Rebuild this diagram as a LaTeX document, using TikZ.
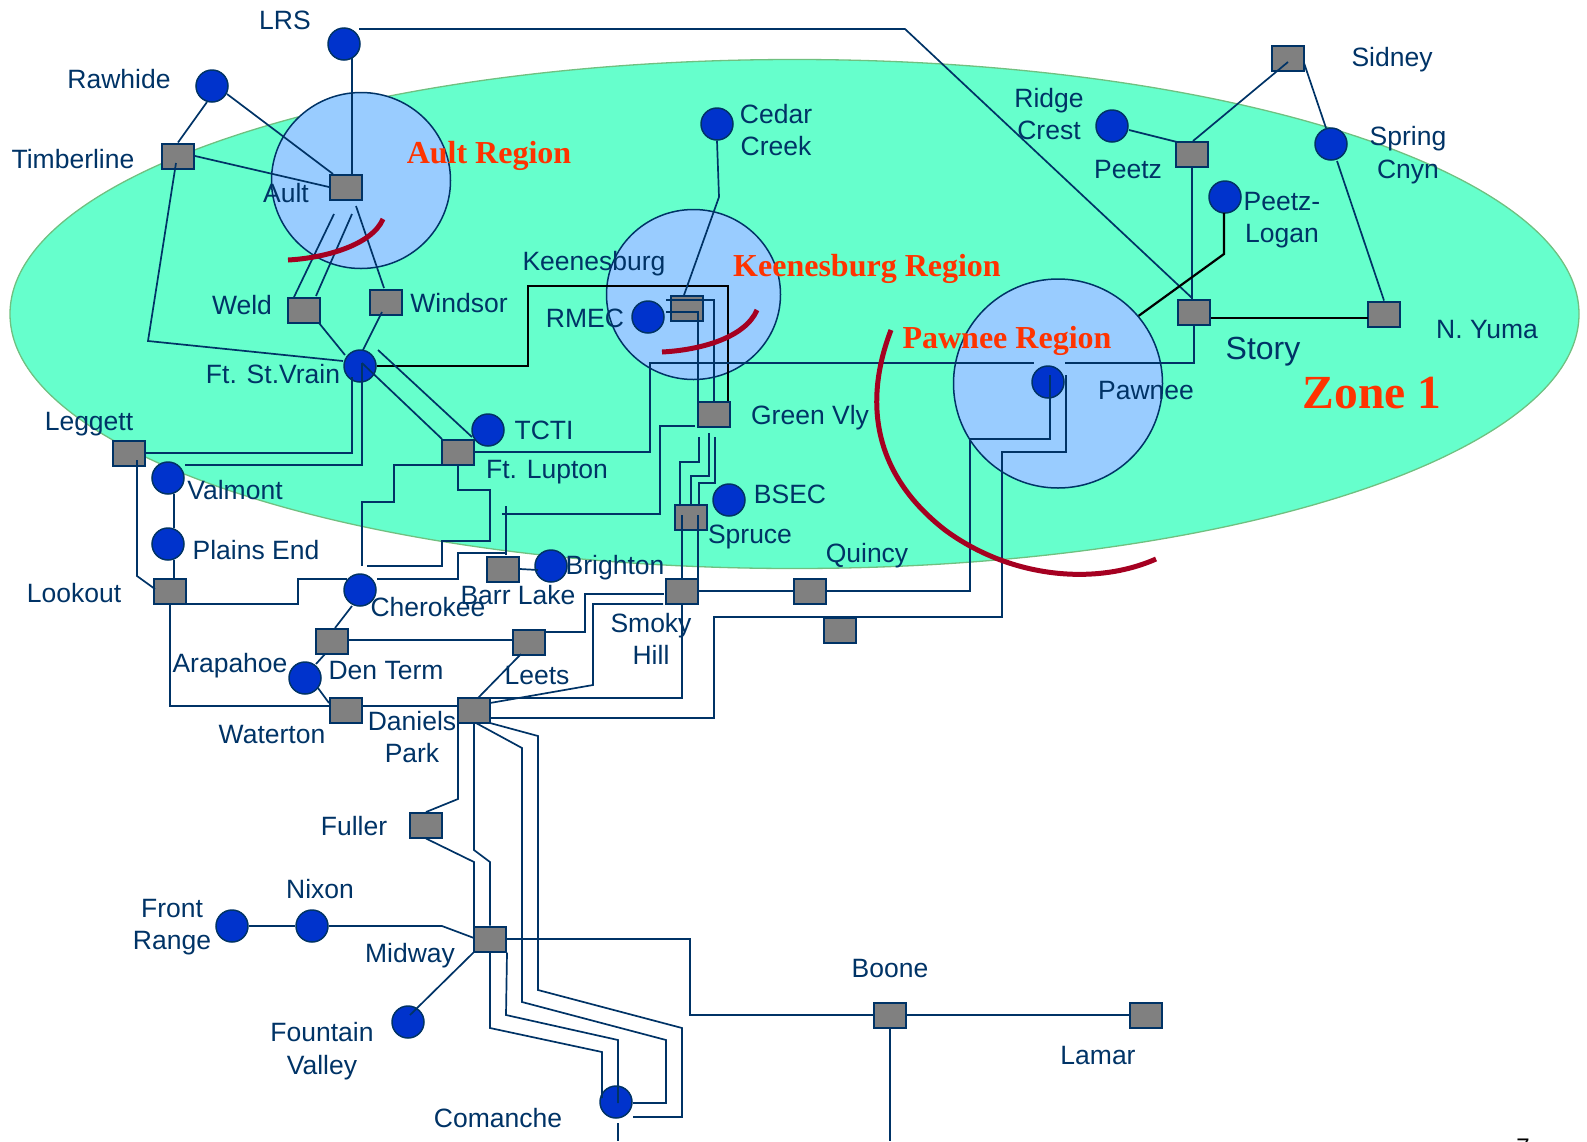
\documentclass[tikz,border=0pt]{standalone}
\usepackage{fontspec}
\setmainfont{Liberation Sans}
\newfontfamily\regfont{Liberation Serif}
\usetikzlibrary{calc}
\definecolor{navy}{HTML}{003366}
\definecolor{zonegreen}{HTML}{66FFCC}
\definecolor{zoneedge}{HTML}{70C080}
\definecolor{regblue}{HTML}{99CCFF}
\definecolor{subblue}{HTML}{0033CC}
\definecolor{cutred}{HTML}{A50021}
\definecolor{regred}{HTML}{FF3300}
\tikzset{
  stn/.style={draw=navy,fill=gray,line width=2pt,minimum width=32pt,minimum height=25pt,inner sep=0pt},
  sub/.style={circle,draw=navy,fill=subblue,line width=1.5pt,minimum size=32pt,inner sep=0pt},
  regn/.style={draw=navy,fill=regblue,line width=1.5pt},
  lnk/.style={draw=navy,line width=1.7pt},
  blk/.style={draw=black,line width=2.2pt},
  cut/.style={draw=cutred,line width=5pt},
  lbl/.style={text=navy,align=center,inner sep=0pt,font=\fontsize{26.5}{32.4}\selectfont},
  reg/.style={text=regred,inner sep=0pt,font=\regfont\bfseries\fontsize{32}{36}\selectfont}
}
\begin{document}
\begin{tikzpicture}[x=1pt,y=-1pt]
\useasboundingbox (0,0) rectangle (1587,1141);
\clip (0,0) rectangle (1587,1141);

\draw[draw=zoneedge,fill=zonegreen,line width=1.3pt] (794.5,314) ellipse [x radius=784.5, y radius=254.5];
\draw[regn] (361,180.5) ellipse [x radius=89.5, y radius=88];
\draw[regn] (693.5,294.5) ellipse [x radius=87, y radius=85];
\node[regn,circle,inner sep=0pt,minimum size=209pt] (pawnreg) at (1058,383.5) {};

% squares
\node[stn] (timberline) at (178,156) {};
\node[stn] (aultsq) at (346,187) {};
\node[stn] (weld) at (304,310) {};
\node[stn] (windsor) at (386,302) {};
\node[stn] (ftlupton) at (458,452) {};
\node[stn] (leggett) at (129,453) {};
\node[stn] (lookout) at (170,591) {};
\node[stn] (barr) at (503,569) {};
\node[stn] (smoky) at (682,591) {};
\node[stn] (dtsq) at (332,641) {};
\node[stn] (leets) at (529,642) {};
\node[stn] (waterton) at (346,710) {};
\node[stn] (daniels) at (474,710) {};
\node[stn] (fuller) at (426,825) {};
\node[stn] (midway) at (490,939) {};
\node[stn] (boone) at (890,1015) {};
\node[stn] (lamar) at (1146,1015) {};
\node[stn] (keen) at (687,308) {};
\node[stn] (grnvly) at (714,414) {};
\node[stn] (spruce) at (691,517) {};
\node[stn] (quincy) at (810,591) {};
\node[stn] (spare) at (840,630) {};
\node[stn] (story) at (1194,312) {};
\node[stn] (nyuma) at (1384,314) {};
\node[stn] (peetz) at (1192,154) {};
\node[stn] (sidney) at (1288,58) {};

% circles
\node[sub] (rawhide) at (212,86) {};
\node[sub] (lrs) at (344,44) {};
\node[sub] (fsv) at (360,366) {};
\node[sub] (tcti) at (488,430) {};
\node[sub] (valmont) at (168,478) {};
\node[sub] (plains) at (168,544) {};
\node[sub] (cherokee) at (360,590) {};
\node[sub] (brighton) at (551,566) {};
\node[sub] (denterm) at (305,678) {};
\node[sub] (frontrange) at (232,926) {};
\node[sub] (nixon) at (312,926) {};
\node[sub] (fountain) at (408,1022) {};
\node[sub] (comanche) at (616,1102) {};
\node[sub] (cedar) at (717,124) {};
\node[sub] (rmec) at (648,317) {};
\node[sub] (bsec) at (729,500) {};
\node[sub] (pawnee) at (1048,382) {};
\node[sub] (ridge) at (1112,126) {};
\node[sub] (spring) at (1331,144) {};
\node[sub] (peetzlogan) at (1225,197) {};

\coordinate (comdn) at (618,1141);
\coordinate (boonedn) at (890,1141);

% Ault area
\draw[lnk] ($(lrs)+(8,14)$) -- ($(aultsq)+(6,-13)$);
\draw[lnk] ($(lrs)+(15,-15)$) -- (905,29) -- ($(story)+(-2,-14)$);
\draw[lnk] ($(rawhide)+(-5,16)$) -- (timberline.north);
\draw[lnk] ($(rawhide)+(15,8)$) -- ($(aultsq)+(-13,-13)$);
\draw[lnk] (timberline.east) -- (aultsq.west);
\draw[lnk] ($(timberline)+(-2,7)$) -- (148,341) -- ($(fsv)+(-17,-5)$);
\draw[lnk] ($(aultsq)+(-12,27)$) -- ($(weld)+(-10,-13)$);
\draw[lnk] ($(aultsq)+(6,27)$) -- ($(weld)+(12,-14)$);
\draw[lnk] ($(aultsq)+(10,19)$) -- ($(windsor)+(-2,-14)$);
\draw[lnk] ($(weld)+(15,13)$) -- ($(fsv)+(-15,-11)$);
\draw[lnk] ($(windsor)+(-4,10)$) -- ($(fsv)+(3,-16)$);

% Ft. St.Vrain
\draw[blk] (fsv.east) -- (528,366) -- (528,286) -- (728,286) -- ($(grnvly)+(14,-13)$);
\draw[lnk] ($(fsv)+(-8,11)$) -- (352,453) -- (leggett.east);
\draw[lnk] ($(fsv)+(2,-3)$) -- (362,465) -- ($(valmont)+(17,-13)$);
\draw[lnk] ($(fsv)+(2,-3)$) -- ($(ftlupton)+(-16,-13)$);
\draw[lnk] ($(fsv)+(18,-16)$) -- ($(ftlupton)+(14,-15)$);

% Ft. Lupton
\draw[lnk] (ftlupton.east) -- (650,452) -- (650,363) -- ($(pawnee)+(-14,-19)$);
\draw[lnk] ($(pawnee)+(17,-19)$) -- (1194,363) -- (story.south);
\draw[lnk] ($(ftlupton)+(-16,13)$) -- (394,465) -- (394,502) -- (362,502) -- ($(cherokee)+(2,-24)$);
\draw[lnk] (ftlupton.south) -- (458,490) -- (490,490) -- (490,541) -- (442,541) -- (442,566) -- ($(cherokee)+(7,-24)$);

% Lookout and Cherokee
\draw[lnk] ($(lookout)+(16,13)$) -- (298,604) -- (298,579) -- ($(cherokee)+(-13,-11)$);
\draw[lnk] ($(cherokee)+(17,-11)$) -- (458,579) -- (458,553) -- ($(barr)+(3,-16)$);
\draw[lnk] ($(barr)+(3,-14)$) -- ($(barr)+(3,-63)$);
\draw[lnk] ($(barr)+(-1,-55)$) -- (660,514) -- (660,426) -- ($(grnvly)+(-19,12)$);
\draw[lnk] (barr.east) -- ($(brighton)+(-13,4)$);
\draw[lnk] ($(valmont)+(6,16)$) -- ($(plains)+(6,-16)$);
\draw[lnk] ($(plains)+(6,16)$) -- ($(lookout)+(4,-13)$);
\draw[lnk] ($(leggett)+(8,7)$) -- (137,576) -- ($(lookout)+(-15,-2)$);
\draw[lnk] (lookout.south) -- (170,706) -- ($(waterton)+(-16,-4)$);
\draw[lnk] ($(waterton)+(17,-4)$) -- ($(daniels)+(-16,-4)$);
\draw[lnk] ($(cherokee)+(-8,16)$) -- ($(dtsq)+(3,-13)$);
\draw[lnk] ($(dtsq)+(-7,13)$) -- ($(denterm)+(11,-14)$);
\draw[lnk] ($(denterm)+(13,10)$) -- ($(waterton)+(-17,-7)$);
\draw[lnk] ($(dtsq)+(17,-1)$) -- ($(leets)+(-16,-2)$);

% Smoky Hill and Daniels Park
\draw[lnk] ($(leets)+(17,-10)$) -- (585,632) -- (585,594) -- ($(smoky)+(-18,3)$);
\draw[lnk] ($(smoky)+(-19,13)$) -- (593,604) -- (593,685) -- ($(daniels)+(16,-7)$);
\draw[lnk] (smoky.south) -- (682,698) -- ($(daniels)+(16,-12)$);
\draw[lnk] ($(leets)+(-8,12)$) -- ($(daniels)+(4,-12)$);
\draw[lnk] ($(daniels)+(16,8)$) -- (714,718) -- (714,617) -- (1002,617) -- (1002,452) -- (1066,452) -- ($(pawnee)+(18,-7)$);
\draw[lnk] (smoky.east) -- (quincy.west);
\draw[lnk] (quincy.east) -- (970,591) -- (970,439) -- (1050,439) -- ($(pawnee)+(2,-7)$);
\draw[lnk] ($(spruce)+(-9,-2)$) -- ($(smoky)+(0,-12)$);
\draw[lnk] ($(spruce)+(7,-2)$) -- ($(smoky)+(16,-12)$);

% Green Vly and Keenesburg
\draw[lnk] ($(grnvly)+(-15,23)$) -- (699,462) -- (680,462) -- ($(spruce)+(-11,-13)$);
\draw[lnk] ($(grnvly)+(-5,19)$) -- (709,476) -- (691,476) -- ($(spruce)+(0,-13)$);
\draw[lnk] ($(grnvly)+(1,23)$) -- (715,483) -- (699,483) -- ($(spruce)+(8,-13)$);
\draw[lnk] ($(keen)+(-21,4)$) -- (698,312) -- ($(grnvly)+(-16,-13)$);
\draw[lnk] ($(keen)+(-21,-8)$) -- (714,300) -- (grnvly.north);
\draw[lnk] (cedar.south) -- (719,197) -- ($(keen)+(-3,-13)$);

% Peetz and Story
\draw[lnk] ($(ridge)+(17,4)$) -- ($(peetz)+(-15,-12)$);
\draw[lnk] ($(peetz)+(1,-13)$) -- ($(sidney)+(0,4)$);
\draw[lnk] ($(sidney)+(16,5)$) -- ($(spring)+(-5,-16)$);
\draw[lnk] ($(spring)+(6,17)$) -- (nyuma.north);
\draw[lnk] (peetz.south) -- ($(story)+(-2,-13)$);
\draw[blk] ($(story)+(17,6)$) -- ($(nyuma)+(-16,4)$);
\draw[blk] ($(peetzlogan)+(-1,16)$) -- (1224,254) -- (pawnreg.40);

% south of Daniels Park
\draw[lnk] ($(daniels)+(-16,13)$) -- (458,799) -- ($(fuller)+(0,-13)$);
\draw[lnk] (fuller.south) -- (474,862) -- ($(midway)+(-16,-13)$);
\draw[lnk] (daniels.south) -- (474,850) -- (490,862) -- (midway.north);
\draw[lnk] ($(daniels)+(2,13)$) -- (522,748) -- (522,1002) -- (666,1040) -- (666,1103) -- ($(comanche)+(17,1)$);
\draw[lnk] ($(daniels)+(16,13)$) -- (538,736) -- (538,990) -- (682,1028) -- (682,1117) -- ($(comanche)+(17,15)$);
\draw[lnk] (midway.south) -- (490,1028) -- (602,1052) -- ($(comanche)+(-14,-4)$);
\draw[lnk] (midway.south east) -- (506,1015) -- (618,1040) -- ($(comanche)+(2,1)$);
\draw[lnk] ($(comanche)+(2,21)$) -- (comdn);
\draw[lnk] (midway.east) -- (690,939) -- (690,1015) -- (boone.west);
\draw[lnk] (boone.east) -- (lamar.west);
\draw[lnk] (boone.south) -- (boonedn);
\draw[lnk] (nixon.east) -- (442,926) -- ($(midway)+(-16,-1)$);
\draw[lnk] (frontrange.east) -- (nixon.west);
\draw[lnk] ($(fountain)+(2,-7)$) -- ($(midway)+(-16,13)$);

% red cuts
\draw[cut] (288,260) .. controls (325,258) and (372,245) .. (383,219);
\draw[cut] (662,352) .. controls (700,350) and (745,338) .. (757,310);
\draw[cut] (891,330) .. controls (866,395) and (868,470) .. (945,530) .. controls (1010,578) and (1095,586) .. (1156,559);

% labels
\node[lbl] (lblrs) at (285,20) {LRS};
\node[lbl] (lbrawhide) at (119,79) {Rawhide};
\node[lbl] (lbtimber) at (73,159) {Timberline};
\node[lbl] (lbault) at (286,193) {Ault};
\node[lbl] (lbcedar) at (776,130) {Cedar\\Creek};
\node[lbl] (lbkeen) at (594,264) {Keenesburg};
\node[lbl] (lbweld) at (242,305) {Weld};
\node[lbl] (lbwindsor) at (459,303) {Windsor};
\node[lbl] (lbrmec) at (585,318) {RMEC};
\node[lbl] (lbfsv) at (273,374) {Ft. St.Vrain};
\node[lbl] (lbleggett) at (89,424) {Leggett};
\node[lbl] (lbtcti) at (544,430) {TCTI};
\node[lbl] (lblupton) at (547,472) {Ft. Lupton};
\node[lbl] (lbvalmont) at (235,490) {Valmont};
\node[lbl] (lbplains) at (256,550) {Plains End};
\node[lbl] (lblookout) at (74,593) {Lookout};
\node[lbl] (lbbrighton) at (615,568) {Brighton};
\node[lbl] (lbbarr) at (518,595) {Barr Lake};
\node[lbl] (lbcherokee) at (428,607) {Cherokee};
\node[lbl] (lbsmoky) at (651,639) {Smoky\\Hill};
\node[lbl] (lbarapahoe) at (230,666) {Arapahoe};
\node[lbl] (lbdenterm) at (386,671) {Den Term};
\node[lbl] (lbleets) at (537,676) {Leets};
\node[lbl] (lbwaterton) at (272,735) {Waterton};
\node[lbl] (lbdaniels) at (412,737) {Daniels\\Park};
\node[lbl] (lbfuller) at (354,826) {Fuller};
\node[lbl] (lbfront) at (172,927) {Front\\Range};
\node[lbl] (lbnixon) at (320,889) {Nixon};
\node[lbl] (lbmidway) at (410,956) {Midway};
\node[lbl] (lbfountain) at (322,1051) {Fountain\\Valley};
\node[lbl] (lbcomanche) at (498,1118) {Comanche};
\node[lbl] (lbboone) at (890,968) {Boone};
\node[lbl] (lblamar) at (1098,1055) {Lamar};
\node[lbl] (lbgrnvly) at (810,418) {Green Vly};
\node[lbl] (lbbsec) at (790,494) {BSEC};
\node[lbl] (lbspruce) at (750,537) {Spruce};
\node[lbl] (lbquincy) at (867,556) {Quincy};
\node[lbl] (lbridge) at (1049,114) {Ridge\\Crest};
\node[lbl] (lbpeetz) at (1128,170) {Peetz};
\node[lbl] (lbplogan) at (1282,220) {Peetz-\\Logan};
\node[lbl] (lbsidney) at (1392,60) {Sidney};
\node[lbl] (lbspring) at (1408,155) {Spring\\Cnyn};
\node[lbl] (lbnyuma) at (1487,330) {N. Yuma};
\node[lbl,font=\fontsize{32}{36}\selectfont] (lbstory) at (1263,352) {Story};
\node[lbl] (lbpawnee) at (1146,391) {Pawnee};

\node[reg] (lbaultreg) at (489,156) {Ault Region};
\node[reg] (lbkeenreg) at (867,269) {Keenesburg Region};
\node[reg] (lbpawnreg) at (1007,341) {Pawnee Region};
\node[reg,font=\regfont\bfseries\fontsize{47.5}{50}\selectfont] (lbzone) at (1372,393) {Zone 1};
\node[inner sep=0pt,font=\fontsize{24}{28}\selectfont] (lbpage) at (1523,1147) {7};

\end{tikzpicture}
\end{document}
